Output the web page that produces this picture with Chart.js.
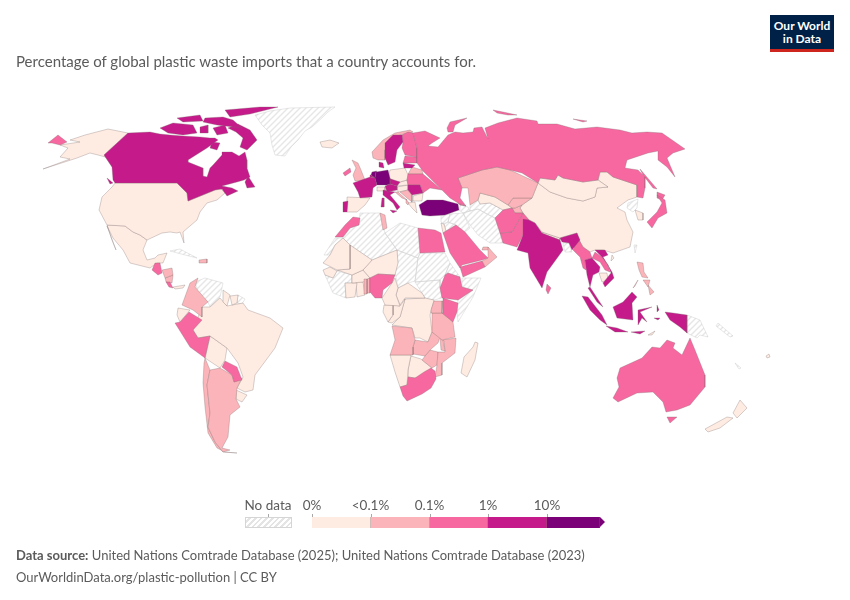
<!DOCTYPE html>
<html>
<head>
<meta charset="utf-8">
<script src="https://cdn.jsdelivr.net/npm/chart.js@4"></script>
<style>
  html, body { margin: 0; background: #fff; }
  #page { position: relative; width: 850px; height: 600px; overflow: hidden; font-family: Lato, sans-serif; color: #5b5b5b; }
  #page > canvas { position: absolute; left: 0; top: 0; }
  .txt { position: absolute; white-space: nowrap; }
  .tick { position: absolute; font-size: 13.5px; line-height: 16px; top: 497px; transform: translateX(-50%); }
  .bin { position: absolute; top: 517px; height: 11px; box-sizing: border-box; border-right: 1px solid rgba(120,100,100,.35); }
  .mark { position: absolute; top: 514px; width: 1px; height: 3px; background: #a8a8a8; }
</style>
</head>
<body>
<div id="page">
  <canvas id="mapChart" width="850" height="600"></canvas>
  <div class="txt" style="left:16px;top:52px;font-size:15px;line-height:18px">Percentage of global plastic waste imports that a country accounts for.</div>
  <div style="position:absolute;left:770px;top:15px;width:64px;height:37px;background:#002147;border-bottom:3px solid #ce261e;box-sizing:border-box;color:#fff;font-weight:700;font-size:12px;line-height:12.5px;text-align:center;padding-top:5px">Our World<br>in Data</div>
  <div id="legend"></div>
  <div class="txt" style="left:16px;top:547px;font-size:13px;line-height:16px"><b>Data source:</b> United Nations Comtrade Database (2025); United Nations Comtrade Database (2023)</div>
  <div class="txt" style="left:16px;top:569px;font-size:13px;line-height:16px">OurWorldinData.org/plastic-pollution | CC BY</div>
</div>
<script>
const binLabels = ['0%', '<0.1%', '0.1%', '1%', '10%'];
const binColors = ['#feebe2', '#fbb4b9', '#f768a1', '#c51b8a', '#7a0177'];

// outlines, as x,y pairs on the map grid
const noDataShapes = [
  ['Greenland', [255,115,270,111,290,108,335,107,328,112,322,118,312,127,305,131,298,140,291,147,285,156,275,155,272,145,270,133,262,125]],
  ['Cuba', [170,251,180,249,197,258,185,255]],
  ['Venezuela', [195,282,205,278,223,283,220,297,210,307,208,302,198,292]],
  ['French Guiana', [238,295,245,299,242,304,237,303]],
  ['Western Sahara', [335,238,343,238,335,245,330,255,324,255]],
  ['Algeria', [360,213,380,213,385,233,397,250,372,260,350,245,343,238,350,228,359,225]],
  ['Libya', [385,233,400,223,418,228,420,253,418,258,397,250]],
  ['Sudan', [420,253,445,253,450,263,445,275,440,280,415,282,418,258]],
  ['South Sudan', [415,282,440,280,440,288,442,298,434,300,425,298,422,293]],
  ['Chad', [397,250,418,258,415,281,408,283,398,288,395,272,398,263]],
  ['Guinea', [325,275,333,278,337,271,352,275,352,283,345,283,346,298,333,293]],
  ['Eritrea', [445,275,450,263,460,277,448,273]],
  ['Somalia', [462,278,481,278,473,297,458,322,457,310,458,300,473,290,462,287]],
  ['Iran', [463,213,470,211,478,209,487,214,495,218,500,233,503,243,490,243,478,235,470,225]],
  ['Iraq', [450,214,463,213,470,228,465,232,456,225,448,222]],
  ['Syria', [441,216,450,214,448,222,444,224,441,222]],
  ['Jordan', [444,224,448,222,456,225,446,231]],
  ['Azerbaijan', [460,205,468,207,470,211,463,213,459,210]],
  ['Turkmenistan', [470,205,478,200,480,204,490,203,503,210,495,218,487,214,478,209,470,211]],
  ['Bangladesh', [563,243,569,243,572,252,565,252]],
  ['North Korea', [628,203,638,199,637,208,633,212,627,208]],
  ['Taiwan', [634,245,637,245,635,253]],
  ['Papua New Guinea', [687,315,700,320,708,337,700,335,697,338,687,333]],
  ['Solomon Islands', [718,323,733,336,730,337,716,326]],
  ['New Caledonia', [735,363,741,368,739,369]]
];
const zeroShapes = [
  ['USA', [115,183,177,183,187,193,188,201,215,190,220,188,225,193,217,200,207,203,200,212,197,220,190,226,183,232,184,243,180,232,177,233,170,232,162,233,147,240,140,235,133,232,125,226,107,225,99,210,102,197,112,187]],
  ['Alaska', [128,133,104,155,113,168,109,158,98,155,90,153,77,158,43,169,70,159,60,157,68,148,60,145,80,142,70,140,85,135,108,129]],
  ['Mexico', [107,225,125,226,133,232,140,235,147,240,143,250,147,260,155,258,158,255,167,253,163,263,157,263,150,268,130,263,123,250,113,238,107,226,116,250,112,240]],
  ['Panama', [173,287,185,285,183,288,175,289]],
  ['Guyana', [223,290,230,295,227,306,223,302]],
  ['Suriname', [230,296,238,295,237,303,232,305]],
  ['Ecuador', [177,315,178,308,190,310,180,322]],
  ['Brazil', [193,330,202,307,210,307,220,298,227,306,243,303,248,310,270,318,283,328,275,348,255,375,253,390,245,392,237,388,243,377,238,363,227,348,213,338,210,336,198,338]],
  ['Bolivia', [210,336,227,348,225,360,220,368,208,360,205,358]],
  ['Uruguay', [236,390,247,395,242,402,236,399]],
  ['Iceland', [320,142,330,140,339,143,332,148,322,147]],
  ['Spain', [347,197,370,198,365,205,357,212,347,212]],
  ['Mauritania', [343,238,350,245,350,269,337,270,323,263,330,255,335,245]],
  ['Mali', [350,245,372,260,363,270,352,275,337,270,350,269]],
  ['Niger', [372,260,397,250,398,263,395,275,378,274,370,278,363,270]],
  ['Senegal', [323,270,330,267,337,271,333,278,325,275]],
  ['Burkina Faso', [352,275,363,270,370,278,363,282,352,283]],
  ['Ivory Coast', [345,283,357,283,355,297,346,298]],
  ['Ghana', [356,282,363,282,365,295,357,297]],
  ['Cameroon', [395,278,398,288,396,295,400,306,385,305,382,298,392,283]],
  ['CAR', [398,288,408,283,422,293,425,298,405,298,400,305,396,295]],
  ['Gabon', [384,305,393,305,393,315,388,322,383,312]],
  ['Congo', [393,305,400,306,405,299,400,317,392,323,388,322,393,315]],
  ['DR Congo', [405,299,425,298,434,300,430,315,432,332,428,342,420,338,415,338,412,328,392,325,400,317]],
  ['Namibia', [390,355,411,355,408,370,407,385,400,387,395,372]],
  ['Botswana', [411,356,421,359,432,368,423,377,415,378,408,377,408,370]],
  ['Madagascar', [475,342,478,343,475,360,467,377,461,373,464,357,473,347]],
  ['Uzbekistan', [478,200,480,193,495,197,508,205,512,208,503,210,490,203,480,204]],
  ['Mongolia', [538,183,540,178,555,180,558,175,563,178,583,182,598,180,608,187,597,188,595,197,583,201,567,198,550,192]],
  ['China', [538,183,550,192,567,198,583,201,595,197,597,188,608,187,598,180,600,172,607,172,613,177,637,185,637,197,628,200,617,208,625,212,627,220,633,232,630,247,613,253,603,250,595,250,590,252,583,247,578,238,577,233,560,238,542,232,535,223,529,220,523,213,520,208,522,205,532,198]],
  ['Nepal', [542,232,560,238,560,240,543,235]],
  ['Cambodia', [599,273,607,273,608,280,602,282]],
  ['South Korea', [635,210,643,213,643,220,638,220]],
  ['Hainan', [612,255,614,258,611,261]],
  ['Poland', [390,170,405,168,408,175,407,180,400,182,392,182,388,178]],
  ['Slovakia', [400,182,407,180,408,185,397,186]],
  ['Switzerland', [377,187,385,187,385,191,377,191]],
  ['Hungary', [397,187,408,185,408,190,398,192]],
  ['Bulgaria', [413,196,423,193,422,201,413,201]],
  ['Greece', [408,203,415,202,417,213,412,208]],
  ['Israel', [441,223,444,224,446,231,443,233]],
  ['Timor', [648,335,655,331,652,335]],
  ['New Zealand south', [705,429,727,417,733,418,720,428,708,432]],
  ['New Zealand north', [733,413,740,400,747,408,737,418]],
  ['Fiji', [766,356,769,354,770,357,767,358]]
];
const lowShapes = [
  ['Honduras', [162,270,172,268,173,275,165,278]],
  ['Nicaragua', [165,278,173,275,172,283,166,282]],
  ['Dominican Rep.', [199,260,207,259,207,263,199,263]],
  ['Colombia', [182,305,190,283,198,278,195,287,208,302,202,307,202,317,193,310]],
  ['Argentina', [210,370,220,368,232,375,234,382,242,378,237,388,236,399,240,407,230,415,228,437,222,448,230,450,223,452,215,442,208,427,210,413,207,385]],
  ['Chile', [205,358,210,370,207,385,210,413,208,427,215,442,223,452,237,453,225,452,217,448,208,433,205,407,203,383,204,363]],
  ['Tunisia', [380,213,385,215,387,228,383,230]],
  ['Togo', [364,279,367,279,367,294,364,294]],
  ['Benin', [367,279,370,278,370,293,367,293]],
  ['Uganda', [434,301,443,301,442,313,432,313,431,310]],
  ['Tanzania', [432,313,442,313,453,322,455,337,442,340,432,332]],
  ['Angola', [392,326,412,328,415,340,413,347,413,355,390,355,395,340]],
  ['Zambia', [415,340,428,342,432,332,440,337,438,343,430,350,425,356,413,354,413,347]],
  ['Malawi', [440,338,443,340,445,351,441,350]],
  ['Mozambique', [442,340,456,338,455,353,442,363,442,375,435,377,437,365,438,352,445,352,444,341]],
  ['Zimbabwe', [425,356,430,350,438,352,437,365,432,368,422,360]],
  ['Oman', [488,247,497,257,485,267,482,261,488,258]],
  ['UAE', [483,247,488,247,490,250,482,250]],
  ['Kazakhstan', [458,178,482,170,497,167,510,170,538,183,532,198,513,198,508,205,495,197,480,193,478,200,470,205,468,188,462,188]],
  ['Kyrgyzstan', [508,205,513,198,532,198,522,205,515,208,512,208]],
  ['Tajikistan', [512,208,515,208,522,205,520,208,523,213,515,213]],
  ['Philippines', [637,262,643,263,644,272,648,278,642,277,639,270]],
  ['Visayas', [643,280,650,280,648,287]],
  ['Mindanao', [648,285,654,292,650,295]],
  ['Palawan', [633,288,638,280,635,286]],
  ['Norway', [372,152,383,140,395,133,410,130,413,132,400,135,390,140,385,150,385,160,378,160,373,158]],
  ['UK', [352,160,358,163,361,170,365,180,355,181,353,175,356,168]],
  ['Belarus', [412,167,422,170,423,174,408,174]],
  ['Serbia', [408,190,412,195,412,202,407,198,400,192]],
  ['Croatia', [395,192,398,192,407,200,402,198]],
  ['Albania', [406,199,409,203,408,205,406,203]]
];
const midShapes = [
  ['Chukotka', [48,143,58,135,67,142,60,145,52,143]],
  ['Guatemala', [152,270,155,263,160,263,162,273,158,275]],
  ['Costa Rica', [166,282,170,282,173,288,169,287]],
  ['Peru', [175,323,180,322,189,312,202,320,193,330,198,338,210,336,205,358,190,347]],
  ['Paraguay', [222,367,225,361,237,367,242,380,234,382,232,375]],
  ['Morocco', [345,225,353,217,360,218,359,225,350,228,343,237,335,237]],
  ['Egypt', [418,228,435,230,441,233,445,252,420,253]],
  ['Nigeria', [370,278,378,274,395,275,392,283,383,290,382,298,375,298,370,292]],
  ['Ethiopia', [445,275,448,273,460,277,462,287,473,290,458,300,442,298,440,288]],
  ['Kenya', [443,298,458,303,457,312,453,322,442,313]],
  ['South Africa', [400,387,407,385,408,377,415,378,424,372,431,368,435,371,436,379,431,388,422,394,407,401,403,396]],
  ['Saudi Arabia', [443,233,446,231,456,225,465,232,480,250,488,258,482,260,462,265,460,268,450,253]],
  ['Yemen', [460,267,482,261,485,267,463,277]],
  ['Russia', [413,133,425,131,440,138,432,143,428,146,438,147,448,135,455,132,463,133,473,132,474,128,482,127,488,139,485,128,498,123,517,118,537,121,538,124,557,124,575,129,597,127,620,130,632,133,647,132,662,133,675,142,685,149,673,153,667,158,675,177,667,167,658,160,658,151,648,153,627,160,625,168,638,170,645,177,645,188,643,198,637,197,637,185,613,177,607,172,600,172,598,180,583,182,563,178,558,175,555,180,540,178,538,183,522,173,510,170,497,167,482,170,458,178,462,188,460,198,466,206,458,203,450,198,442,190,427,175,422,170,417,163,417,157,417,148]],
  ['Novaya Zemlya', [447,128,450,122,467,118,455,125,453,132,448,132]],
  ['Severnaya Zemlya', [493,110,503,112,517,115,508,115,497,113]],
  ['New Siberian Is.', [573,119,587,121,583,122]],
  ['Sakhalin', [640,169,657,189,653,188,643,175]],
  ['Afghanistan', [495,218,503,210,512,208,515,213,523,213,517,223,512,232,500,233]],
  ['Pakistan', [500,233,512,232,517,223,523,213,529,220,523,235,517,247,503,243]],
  ['Sri Lanka', [547,284,551,288,548,294,546,290]],
  ['Myanmar', [578,238,583,247,590,252,592,258,585,260,586,270,583,268,580,257,573,250]],
  ['Laos', [595,252,602,257,608,265,610,272,605,270,600,262,592,258]],
  ['Japan', [657,195,665,200,667,213,658,218,652,228,647,222,657,212,662,203]],
  ['Hokkaido', [657,192,665,195,662,200,657,198]],
  ['Australia', [617,378,620,368,642,358,652,347,660,348,667,340,675,343,673,348,682,355,690,338,695,350,705,375,705,387,690,405,677,410,666,412,663,402,658,397,653,392,637,393,618,402,613,398,619,387]],
  ['Tasmania', [667,417,677,417,670,423]],
  ['Finland', [402,135,408,132,413,133,417,148,417,157,405,155,402,148,403,142]],
  ['Ireland', [343,173,350,168,351,172,345,176]],
  ['Latvia', [405,156,417,157,417,163,403,163]],
  ['Ukraine', [408,174,423,174,442,190,430,188,423,193,420,185,408,185,407,180]],
  ['Georgia', [458,203,466,206,460,205]]
];
const highShapes = [
  ['Canada', [128,133,150,132,160,134,170,135,183,136,200,137,210,138,215,138,218,140,207,148,188,160,188,162,203,168,203,176,207,177,210,168,213,165,222,155,222,152,232,152,239,156,245,152,247,160,247,168,250,177,244,180,237,182,222,186,232,188,238,191,227,196,222,189,215,190,188,201,187,193,177,183,115,183,113,180,112,167,104,155]],
  ['Ellesmere', [225,110,260,107,278,107,250,114,230,117]],
  ['Devon', [205,118,223,117,233,120,242,128,217,125,203,122]],
  ['Melville', [177,118,200,115,203,121,183,122]],
  ['Victoria Is.', [160,128,173,123,193,125,197,133,183,135,168,133]],
  ['Prince of Wales', [200,127,208,125,208,133,200,133]],
  ['Somerset', [213,128,225,125,228,133,217,135]],
  ['Baffin', [228,128,238,124,250,130,257,140,247,150,240,147,243,138,236,132]],
  ['Southampton', [212,142,220,143,217,150,210,148]],
  ['Newfoundland', [248,176,255,187,247,188,245,182]],
  ['Vancouver Is.', [107,178,113,183,110,184]],
  ['France', [353,183,370,177,375,178,377,185,373,188,372,197,360,198,358,192]],
  ['Belgium', [370,175,371,175,375,178,370,177]],
  ['Sweden', [385,143,393,135,402,135,403,142,397,150,395,162,388,165,385,158]],
  ['Denmark', [379,162,383,163,384,168,379,167]],
  ['Portugal', [343,202,348,201,347,212,343,212]],
  ['Austria', [385,186,390,184,397,186,397,190,387,192]],
  ['Italy', [383,190,395,192,390,195,400,207,397,210,393,203,383,195]],
  ['Sicily', [390,210,397,211,393,213]],
  ['Sardinia', [382,198,384,198,384,207,381,207]],
  ['Romania', [408,185,420,185,423,193,412,195,408,190]],
  ['Lithuania', [403,163,415,165,412,168,404,168]],
  ['Czechia', [388,178,400,182,397,186,390,184]],
  ['India', [523,219,529,220,535,223,542,233,560,240,563,250,547,272,542,288,530,268,528,253,517,250,523,235]],
  ['India east', [560,238,577,233,580,240,572,250,569,243,562,242]],
  ['Thailand', [585,260,592,258,600,267,599,272,593,275,590,287,587,275]],
  ['Malaysia', [590,287,603,307,597,302,588,288]],
  ['Vietnam', [595,250,605,250,608,255,603,257,612,272,614,278,605,287,603,283,611,273,608,265,602,257]],
  ['Borneo', [613,307,623,302,632,292,637,297,632,303,633,320,617,318]],
  ['Sumatra', [582,296,588,297,602,315,607,325,600,320,590,310]],
  ['Java', [606,326,617,328,628,332,615,332]],
  ['Sulawesi', [638,310,652,307,640,312,647,322,642,318,638,325]],
  ['Halmahera', [657,305,659,310,657,312]],
  ['Flores', [631,332,645,331,640,334]],
  ['Seram', [654,318,660,318,658,320]],
  ['New Guinea', [665,312,673,313,687,315,687,333,680,327,670,320]]
];
const topShapes = [
  ['Germany', [376,172,388,170,390,178,390,184,387,185,377,185,375,178]],
  ['Netherlands', [372,172,377,171,376,172,375,178,371,175]],
  ['Turkey', [419,205,427,200,443,200,458,204,459,210,445,215,430,216,422,215]]
];

const ctx = document.getElementById('mapChart').getContext('2d');

// diagonal hatch for countries without data
const hatchTile = document.createElement('canvas');
hatchTile.width = 6;
hatchTile.height = 6;
const hatchCtx = hatchTile.getContext('2d');
hatchCtx.strokeStyle = '#e6e6e6';
hatchCtx.lineWidth = 1.4;
hatchCtx.beginPath();
hatchCtx.moveTo(-1, 7); hatchCtx.lineTo(7, -1);
hatchCtx.moveTo(-4, 4); hatchCtx.lineTo(4, -4);
hatchCtx.moveTo(2, 10); hatchCtx.lineTo(10, 2);
hatchCtx.stroke();
const hatch = ctx.createPattern(hatchTile, 'repeat');

function toDataset(shape, fillStyle, edge) {
  const flat = shape[1];
  const points = [];
  for (let i = 0; i < flat.length; i += 2) points.push({ x: flat[i], y: flat[i + 1] });
  points.push(points[0]);
  return {
    label: shape[0],
    data: points,
    showLine: true,
    fill: 'shape',
    backgroundColor: fillStyle,
    borderColor: edge,
    borderWidth: 0.6,
    pointRadius: 0,
    tension: 0
  };
}

const greyEdge = 'rgba(120,105,105,0.5)';
const datasets = [
  ...topShapes.map(s => toDataset(s, binColors[4], greyEdge)),
  ...highShapes.map(s => toDataset(s, binColors[3], greyEdge)),
  ...midShapes.map(s => toDataset(s, binColors[2], greyEdge)),
  ...lowShapes.map(s => toDataset(s, binColors[1], greyEdge)),
  ...zeroShapes.map(s => toDataset(s, binColors[0], greyEdge)),
  ...noDataShapes.map(s => toDataset(s, hatch, 'rgba(200,200,200,0.7)'))
];

new Chart(ctx, {
  type: 'scatter',
  data: { datasets },
  options: {
    responsive: false,
    animation: false,
    events: [],
    layout: { padding: 0 },
    plugins: { legend: { display: false }, tooltip: { enabled: false }, title: { display: false } },
    scales: {
      x: { type: 'linear', display: false, min: 0, max: 850 },
      y: { type: 'linear', display: false, min: 0, max: 600, reverse: true }
    }
  }
});

// colour legend under the map
const legend = document.getElementById('legend');
const binEdges = [312, 370.5, 429.5, 488, 547];
let html = '<div class="tick" style="left:268px">No data</div>' +
  '<div class="mark" style="left:268px"></div>' +
  '<div style="position:absolute;left:245px;top:517px;width:47px;height:11px;box-sizing:border-box;border:1px solid #d5d5d5;background:repeating-linear-gradient(135deg,#fff 0 2px,#e4e4e4 2px 4px)"></div>';
binLabels.forEach((label, i) => {
  const right = i < 4 ? binEdges[i + 1] : 600;
  html += '<div class="tick" style="left:' + binEdges[i] + 'px">' + label.replace('<', '&lt;') + '</div>';
  html += '<div class="mark" style="left:' + binEdges[i] + 'px"></div>';
  html += '<div class="bin" style="left:' + binEdges[i] + 'px;width:' + (right - binEdges[i]) + 'px;background:' + binColors[i] + '"></div>';
});
html += '<div style="position:absolute;left:600px;top:517px;width:0;height:0;border-left:5px solid ' + binColors[4] + ';border-top:5.5px solid transparent;border-bottom:5.5px solid transparent"></div>';
legend.innerHTML = html;
</script>
</body>
</html>
